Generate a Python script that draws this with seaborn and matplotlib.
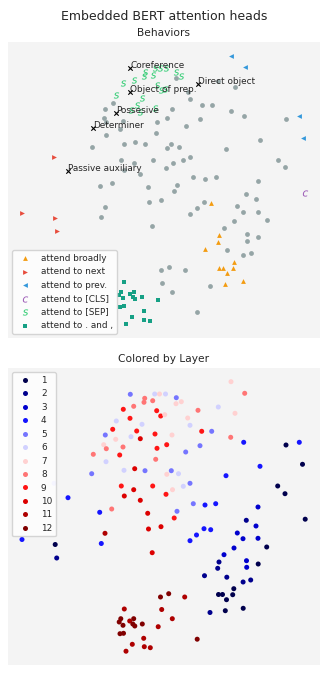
import numpy as np
import pandas as pd
import matplotlib
matplotlib.use("Agg")
import matplotlib.pyplot as plt
import seaborn as sns

# ---- data: 2-D embedding of the attention heads ----
head_x = [
    122.3, 146.7, 151.5, 157.5, 168.3, 173.3, 168.0, 136.7, 136.0, 144.7,
    125.7, 115.3, 148.7, 152.7, 156.7, 122.0, 108.3, 134.0, 104.7, 128.7,
    97.3, 123.0, 147.0, 132.3, 107.7, 158.7, 95.7, 115.0, 98.3, 149.0,
    85.3, 111.7, 147.7, 98.0, 126.7, 116.0, 137.0, 83.7, 158.8, 46.0,
    113.3, 144.7, 125.7, 60.0, 116.3, 158.0, 132.3, 91.7, 103.7, 139.7,
    223.0, 236.7, 190.0, 210.3, 179.7, 227.0, 182.0, 164.0, 193.7, 203.7,
    222.7, 192.0, 235.7, 278.0, 291.3, 177.7, 252.0, 294.5, 163.3, 170.5,
    218.0, 182.0, 175.3, 269.7, 277.0, 164.5, 185.3, 197.0, 207.7, 250.0,
    169.0, 166.2, 297.2, 14.0, 47.2, 48.7, 93.3, 97.0, 140.5, 153.0,
    144.2, 152.5, 160.7, 153.7, 116.3, 112.8, 111.2, 115.0, 121.7, 125.7,
    124.8, 126.8, 134.3, 112.0, 115.5, 150.2, 135.7, 124.3, 136.3, 142.3,
    118.0, 176.7, 164.3, 189.2, 238.3, 248.0, 196.0, 202.7, 188.5, 182.0,
    229.3, 235.0, 250.0, 258.7, 226.0, 216.0, 211.0, 209.7, 238.5, 238.7,
    250.2, 196.5, 218.8, 235.1, 242.7, 225.8, 210.5, 214.5, 224.7, 218.5,
    202.0, 217.3, 235.2,
]
head_y = [
    270.7, 271.0, 271.0, 271.0, 267.3, 263.3, 261.3, 266.7, 262.7, 264.3,
    258.7, 255.7, 254.3, 249.0, 250.3, 246.7, 244.0, 240.7, 235.7, 234.0,
    230.0, 228.3, 231.0, 226.3, 225.7, 220.3, 220.3, 218.0, 216.3, 216.7,
    210.7, 210.0, 205.7, 203.3, 196.3, 194.7, 194.3, 191.3, 190.7, 181.7,
    179.0, 179.0, 175.3, 167.3, 169.0, 170.7, 164.7, 152.7, 156.0, 151.7,
    283.3, 271.7, 254.7, 258.0, 247.0, 251.7, 239.7, 230.0, 233.7, 233.7,
    227.7, 219.3, 222.7, 220.0, 222.7, 213.0, 198.7, 200.7, 194.3, 191.3,
    189.3, 181.7, 178.7, 179.0, 171.3, 175.3, 161.3, 160.0, 161.3, 158.0,
    153.7, 147.0, 145.8, 125.5, 120.5, 107.0, 121.5, 131.7, 136.0, 138.3,
    112.3, 68.0, 71.3, 55.5, 56.0, 46.3, 43.0, 39.7, 44.0, 46.3,
    41.0, 39.0, 41.0, 31.3, 31.7, 38.3, 26.7, 20.7, 18.3, 17.3,
    13.8, 68.0, 46.3, 25.8, 144.7, 139.0, 136.3, 135.3, 130.0, 124.3,
    132.0, 126.3, 126.7, 118.0, 117.0, 110.3, 103.0, 96.7, 104.3, 97.7,
    101.0, 89.3, 87.8, 83.0, 85.0, 76.3, 70.5, 70.5, 70.3, 65.3,
    52.5, 54.3, 56.7,
]
head_layer = [
    5, 6, 7, 6, 5, 7, 7, 8, 8, 8,
    8, 9, 9, 9, 7, 9, 6, 6, 9, 9,
    5, 6, 9, 10, 7, 9, 7, 8, 8, 9,
    8, 9, 8, 6, 10, 6, 5, 5, 7, 6,
    9, 9, 10, 4, 10, 9, 10, 4, 8, 10,
    7, 8, 8, 6, 7, 7, 6, 7, 9, 5,
    8, 5, 4, 1, 4, 5, 4, 1, 5, 6,
    4, 5, 6, 1, 1, 7, 5, 4, 4, 3,
    5, 9, 1, 4, 1, 2, 4, 11, 10, 10,
    10, 12, 12, 11, 11, 12, 12, 12, 11, 12,
    12, 12, 12, 12, 12, 11, 11, 11, 11, 11,
    11, 11, 11, 12, 2, 3, 4, 4, 4, 4,
    3, 3, 3, 1, 3, 3, 2, 2, 3, 3,
    1, 2, 2, 2, 2, 1, 1, 1, 1, 1,
    2, 1, 1,
]
# behaviour code for each head ('-' = none, 'syn' = syntactic head)
head_behavior = [
    "syn", "sep", "sep", "sep", "sep", "sep", "-", "sep", "sep", "sep",
    "sep", "sep", "sep", "sep", "sep", "syn", "sep", "sep", "-", "sep",
    "-", "sep", "sep", "sep", "syn", "-", "-", "-", "-", "-",
    "syn", "-", "-", "-", "-", "-", "-", "-", "-", "next",
    "-", "-", "-", "syn", "-", "-", "-", "-", "-", "-",
    "prev", "prev", "syn", "-", "-", "-", "-", "-", "-", "-",
    "-", "-", "-", "-", "prev", "-", "-", "prev", "-", "-",
    "-", "-", "-", "-", "-", "-", "-", "-", "-", "-",
    "-", "-", "cls", "next", "next", "next", "-", "-", "-", "-",
    "-", "-", "-", "-", "punct", "punct", "punct", "punct", "punct", "punct",
    "punct", "punct", "punct", "punct", "punct", "punct", "punct", "punct", "punct", "punct",
    "punct", "-", "-", "-", "-", "-", "-", "broad", "-", "-",
    "-", "-", "-", "-", "-", "-", "broad", "broad", "-", "-",
    "-", "broad", "-", "-", "-", "broad", "broad", "broad", "broad", "broad",
    "-", "broad", "broad",
]
# syntactic heads, in order of appearance in head_behavior
syntax_labels = ["Coreference", "Object of prep.", "Possesive", "Determiner",
                 "Passive auxiliary", "Direct object"]

behavior_codes = ["broad", "next", "prev", "cls", "sep", "punct"]
behavior_names = ["attend broadly", "attend to next", "attend to prev.",
                  "attend to [CLS]", "attend to [SEP]", "attend to . and ,"]
layers = list(range(1, 13))

# ---- styling ----
beh_marker = {"broad": "^", "next": ">", "prev": "<", "cls": "$c$",
              "sep": "$s$", "punct": "s"}
beh_color = {"broad": "#f39c12", "next": "#e74c3c", "prev": "#3498db",
             "cls": "#9b59b6", "sep": "#2ecc71", "punct": "#16a085"}
beh_size = {"broad": 12, "next": 12, "prev": 12, "cls": 20, "sep": 20, "punct": 9}

df = pd.DataFrame({"x": head_x, "y": head_y, "layer": head_layer,
                   "behavior": head_behavior})
df["layer_name"] = df["layer"].astype(str)

sns.set_style("white")
plt.rcParams["font.family"] = ["DejaVu Sans"]
text_color = "#262626"

W, H = 328, 680
fig = plt.figure(figsize=(W / 100, H / 100), dpi=100)
ax1 = fig.add_axes([8 / W, 1 - 338 / H, 312 / W, 296 / H])
ax2 = fig.add_axes([8 / W, 15 / H, 312 / W, 297 / H])

for ax in (ax1, ax2):
    ax.set_facecolor("#f4f4f4")
    ax.set_xlim(0, 312)
    ax.set_ylim(0, 297)
    ax.set_xticks([])
    ax.set_yticks([])
    for sp in ax.spines.values():
        sp.set_visible(False)

fig.text(0.5, 1 - 20 / H, "Embedded BERT attention heads", ha="center",
         va="baseline", fontsize=9, color=text_color)

# ---- top: behaviours ----
plain = df[df["behavior"] == "-"]
sns.scatterplot(data=plain, x="x", y="y", color="#95a5a6", s=12,
                linewidth=0, ax=ax1, legend=False)
for code, name in zip(behavior_codes, behavior_names):
    sub = df[df["behavior"] == code]
    sns.scatterplot(data=sub, x="x", y="y", marker=beh_marker[code],
                    color=beh_color[code], s=beh_size[code], linewidth=0,
                    ax=ax1, label=name)
syn = df[df["behavior"] == "syn"]
sns.scatterplot(data=syn, x="x", y="y", marker="x", color="black", s=10,
                linewidth=0.8, ax=ax1, legend=False)
for (xv, yv), lab in zip(syn[["x", "y"]].values, syntax_labels):
    ax1.text(xv, yv, lab, fontsize=6.4, color=text_color)
ax1.set_xlabel("")
ax1.set_ylabel("")
ax1.set_title("Behaviors", fontsize=7.7, pad=4, color=text_color)
ax1.legend(loc="lower left", fontsize=6.4, scatterpoints=1,
           labelcolor=text_color)

# ---- bottom: layers ----
cmap = matplotlib.colormaps["seismic"]
layer_colors = cmap(np.linspace(0, 1, len(layers)))
palette = {str(l): layer_colors[i] for i, l in enumerate(layers)}
sns.scatterplot(data=df, x="x", y="y", hue="layer_name",
                hue_order=[str(l) for l in layers], palette=palette, s=13,
                linewidth=0, ax=ax2, legend="full")
ax2.set_xlabel("")
ax2.set_ylabel("")
ax2.set_title("Colored by Layer", fontsize=7.7, pad=4, color=text_color)
handles, labels = ax2.get_legend_handles_labels()
ax2.legend(handles, labels, loc="upper left", fontsize=6.4, title=None,
           labelcolor=text_color)

fig.savefig("out.png", dpi=100)
